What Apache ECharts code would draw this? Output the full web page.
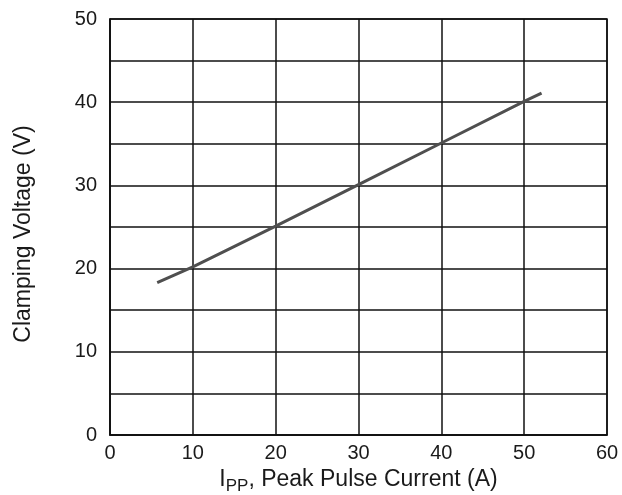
<!DOCTYPE html>
<html>
<head>
<meta charset="utf-8">
<script src="https://cdn.jsdelivr.net/npm/echarts@6/dist/echarts.min.js"></script>
<style>
html,body{margin:0;padding:0;background:#fff;}
#chart{width:622px;height:495px;}
</style>
</head>
<body>
<div id="chart"></div>
<script>
// Peak pulse current (A) and clamping voltage (V)
var currentA = [5.7, 10, 20, 30, 40, 50, 52.1];
var clampV   = [18.3, 20.2, 25.1, 30.1, 35.1, 40.1, 41.1];
var xTicks = [0, 10, 20, 30, 40, 50, 60];
var yTicks = [0, 10, 20, 30, 40, 50];

var FONT = 'Liberation Sans, Arial, sans-serif';
var chart = echarts.init(document.getElementById('chart'));
var pts = currentA.map(function (x, i) { return [x, clampV[i]]; });

chart.setOption({
  animation: false,
  backgroundColor: '#fff',
  grid: {
    left: 110, right: 15, top: 19, bottom: 60,
    outerBoundsMode: 'none', containLabel: false,
    show: true, borderColor: '#111', borderWidth: 1.5
  },
  xAxis: {
    type: 'value', min: xTicks[0], max: xTicks[xTicks.length - 1], interval: 10,
    axisLine: { show: true, lineStyle: { color: '#111', width: 1.5 } },
    axisTick: { show: false },
    splitLine: { show: true, lineStyle: { color: '#111', width: 1.5 } },
    axisLabel: { color: '#1a1a1a', fontSize: 20, fontFamily: FONT, margin: 8 },
    name: '{a|I}{s|PP}{a|, Peak Pulse Current (A)}',
    nameLocation: 'middle', nameGap: 25,
    nameTextStyle: {
      fontFamily: FONT, color: '#1a1a1a',
      rich: {
        a: { fontSize: 23, fontFamily: FONT, color: '#1a1a1a', verticalAlign: 'bottom', lineHeight: 26 },
        s: { fontSize: 17, fontFamily: FONT, color: '#1a1a1a', verticalAlign: 'bottom', lineHeight: 20, padding: [0, 0, -4, 0] }
      }
    }
  },
  yAxis: {
    type: 'value', min: yTicks[0], max: yTicks[yTicks.length - 1], interval: 5,
    axisLine: { show: true, lineStyle: { color: '#111', width: 1.5 } },
    axisTick: { show: false },
    splitLine: { show: true, lineStyle: { color: '#111', width: 1.5 } },
    axisLabel: {
      color: '#1a1a1a', fontSize: 20, fontFamily: FONT, margin: 13,
      formatter: function (v) { return yTicks.indexOf(v) >= 0 ? String(v) : ''; }
    },
    name: 'Clamping Voltage (V)',
    nameLocation: 'middle', nameGap: 75, nameRotate: 90,
    nameTextStyle: { fontSize: 23, fontFamily: FONT, color: '#1a1a1a', padding: [0, 14, 0, 0] }
  },
  series: [{
    type: 'line', data: pts, showSymbol: false,
    lineStyle: { color: '#4f4f4f', width: 3 }
  }]
});
</script>
</body>
</html>
